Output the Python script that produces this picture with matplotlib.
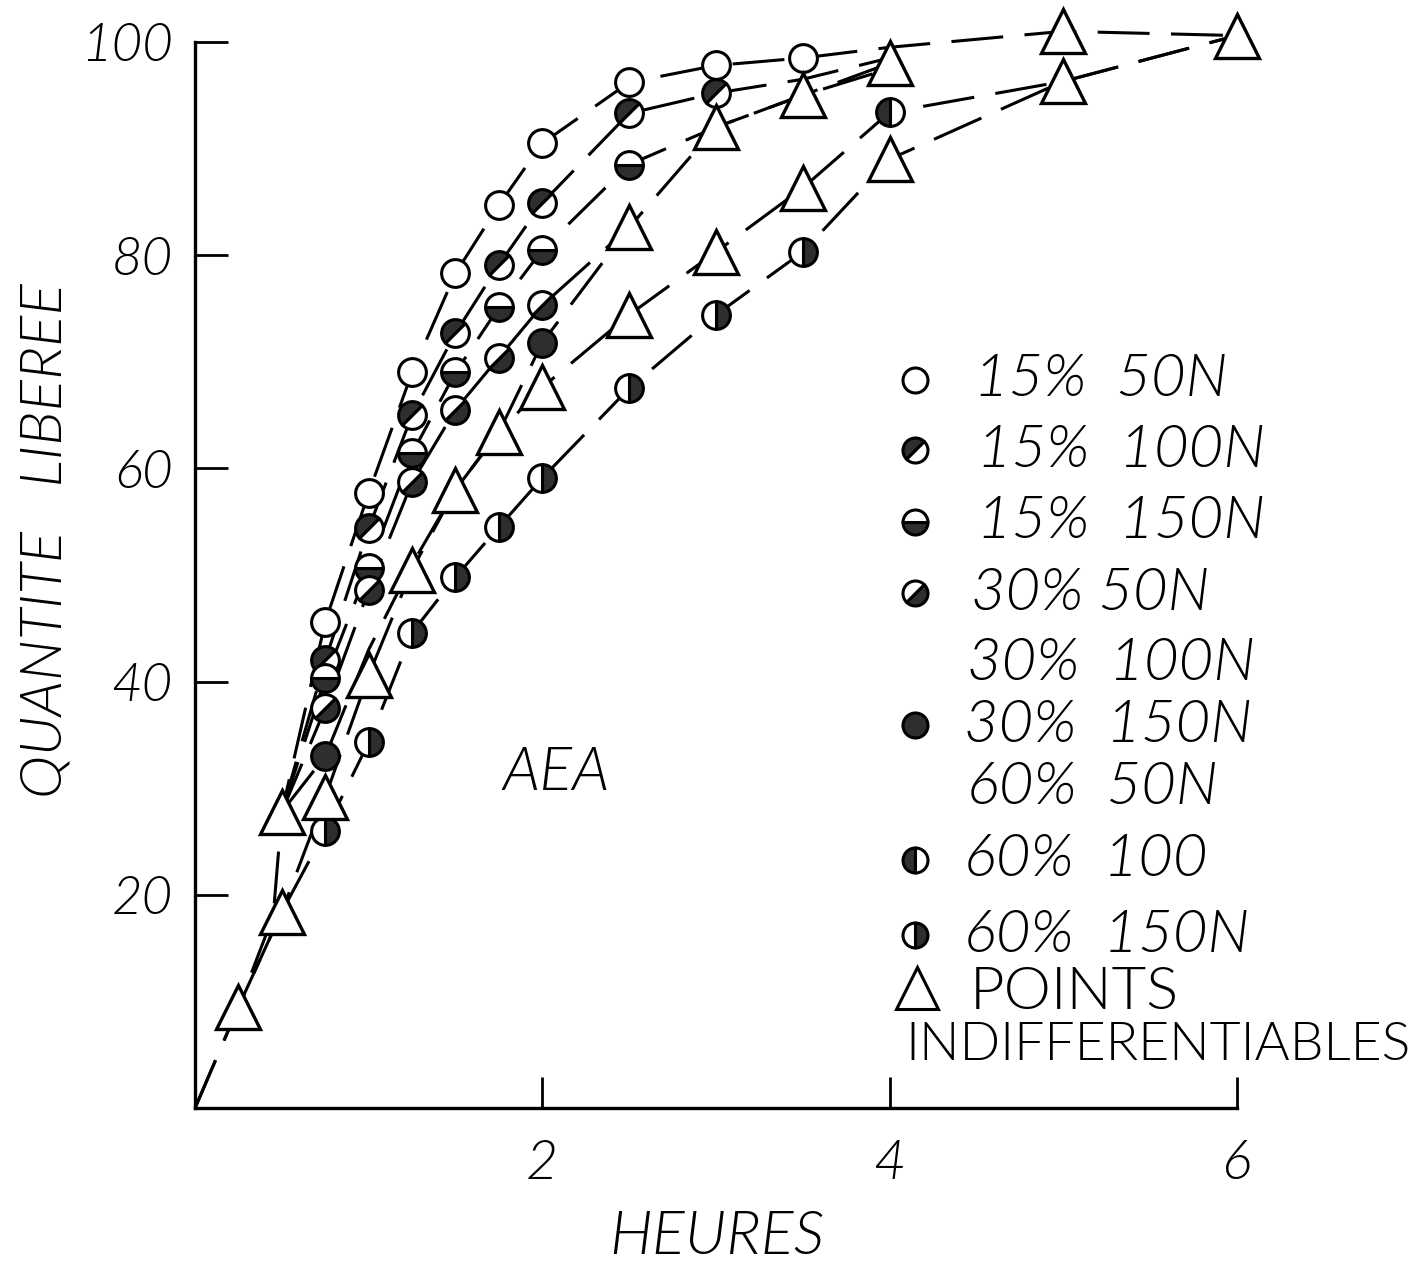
import matplotlib.pyplot as plt
from matplotlib.markers import MarkerStyle
from matplotlib.transforms import Affine2D

# --- valeurs (heures, quantite liberee) ---
# 15% 50N : cercles vides
x_15_50 = [0.75, 1.0, 1.25, 1.5, 1.75, 2.0, 2.5, 3.0, 3.5]
y_15_50 = [45.6, 57.7, 69.0, 78.3, 84.7, 90.5, 96.2, 97.8, 98.5]
# 15% 100N : moitie haut-gauche pleine
x_15_100 = [0.75, 1.0, 1.25, 1.5, 1.75, 2.0, 2.5, 3.0]
y_15_100 = [42.0, 54.4, 65.0, 72.7, 79.1, 84.9, 93.3, 95.2]
# 15% 150N : moitie basse pleine
x_15_150 = [0.75, 1.0, 1.25, 1.5, 1.75, 2.0, 2.5]
y_15_150 = [40.3, 50.7, 61.4, 69.0, 75.1, 80.5, 88.5]
# 30% 50N : moitie bas-droite pleine
x_30_50 = [0.75, 1.0, 1.25, 1.5, 1.75, 2.0]
y_30_50 = [37.5, 48.6, 58.7, 65.5, 70.4, 75.3]
# 30% 150N : plein
x_30_150 = [0.75, 2.0]
y_30_150 = [33.0, 71.8]
# 60% 100 : moitie gauche pleine
x_60_100 = [4.0]
y_60_100 = [93.4]
# 60% 150N : moitie droite pleine
x_60_150 = [0.75, 1.0, 1.25, 1.5, 1.75, 2.0, 2.5, 3.0, 3.5]
y_60_150 = [26.0, 34.3, 44.6, 49.8, 54.5, 59.1, 67.5, 74.4, 80.3]
# points indifferentiables : triangles
x_tri = [0.25, 0.5, 0.5, 0.75, 1.0, 1.25, 1.5, 1.75, 2.0, 2.5, 2.5,
         3.0, 3.0, 3.5, 3.5, 4.0, 4.0, 5.0, 5.0, 6.0]
y_tri = [9.5, 18.4, 27.8, 29.2, 40.6, 50.5, 58.0, 63.4, 67.6, 74.4, 82.6,
         80.3, 92.0, 86.3, 95.0, 89.0, 98.0, 96.3, 101.0, 100.6]

# courbes tracees a la main (tirets)
courbe_a_x = [0, 0.25, 0.45, 0.5, 0.75, 1.0, 1.25, 1.5, 1.75, 2.0, 2.5, 3.0, 3.5, 4.0, 5.0, 6.0]
courbe_a_y = [0, 9.5, 18.0, 27.8, 45.6, 57.7, 69.0, 78.3, 84.7, 90.5, 96.2, 97.8, 98.5, 99.5, 101.0, 100.6]
courbe_b_x = [0.5, 0.75, 1.0, 1.25, 1.5, 1.75, 2.0, 2.5, 3.0, 3.5, 4.0]
courbe_b_y = [27.8, 42.0, 54.4, 65.0, 72.7, 79.1, 84.9, 93.3, 95.2, 96.5, 98.5]
courbe_c_x = [0.5, 0.75, 1.0, 1.25, 1.5, 1.75, 2.0, 2.5, 3.0, 3.5, 4.0]
courbe_c_y = [27.8, 40.3, 50.7, 61.4, 69.0, 75.1, 80.5, 88.5, 92.0, 95.0, 97.5]
courbe_d_x = [0.5, 0.75, 1.0, 1.25, 1.5, 1.75, 2.0, 2.5, 3.0, 3.5, 4.0]
courbe_d_y = [27.8, 37.5, 48.6, 58.7, 65.5, 70.4, 75.3, 82.6, 92.0, 95.0, 98.0]
courbe_e_x = [0.5, 0.75, 1.0, 1.25, 1.5, 1.75, 2.0, 2.5]
courbe_e_y = [27.8, 33.0, 43.0, 51.0, 58.0, 63.4, 71.8, 82.6]
courbe_f_x = [0.25, 0.5, 0.75, 1.0, 1.25, 1.5, 1.75, 2.0, 2.5, 3.0, 3.5, 4.0, 5.0, 6.0]
courbe_f_y = [9.5, 18.4, 29.2, 40.6, 50.5, 58.0, 63.4, 67.6, 74.4, 80.3, 86.3, 93.4, 96.3, 100.6]
courbe_g_x = [0, 0.25, 0.5, 0.75, 1.0, 1.25, 1.5, 1.75, 2.0, 2.5, 3.0, 3.5, 4.0, 5.0, 6.0]
courbe_g_y = [0, 9.5, 18.4, 26.0, 34.3, 44.6, 49.8, 54.5, 59.1, 67.5, 74.4, 80.3, 89.0, 96.3, 100.6]

legende = ['15%  50N', '15%  100N', '15%  150N', '30% 50N', '30%  100N',
           '30%  150N', '60%  50N', '60%  100', '60%  150N', 'POINTS']

fonce = '#2e2e2e'
police = 'Lato'
graisse = 300


def demi(fill, angle):
    return MarkerStyle('o', fillstyle=fill, transform=Affine2D().rotate_deg(angle))


styles = {
    'o_vide': dict(marker='o', mfc='white'),
    '15_100': dict(marker=demi('left', -45), mfc=fonce, mfcalt='white'),
    '15_150': dict(marker=demi('bottom', 0), mfc=fonce, mfcalt='white'),
    '30_50': dict(marker=demi('right', -45), mfc=fonce, mfcalt='white'),
    '30_150': dict(marker='o', mfc=fonce),
    '60_100': dict(marker=demi('left', 0), mfc=fonce, mfcalt='white'),
    '60_150': dict(marker=demi('right', 0), mfc=fonce, mfcalt='white'),
}

fig = plt.figure(figsize=(14.27, 12.68), dpi=100)
ax = fig.add_axes([0.1367, 0.1262, 0.730, 0.8407])

tirets = (0, (17, 7))
for cx, cy in [(courbe_a_x, courbe_a_y), (courbe_b_x, courbe_b_y), (courbe_c_x, courbe_c_y),
               (courbe_d_x, courbe_d_y), (courbe_e_x, courbe_e_y), (courbe_f_x, courbe_f_y),
               (courbe_g_x, courbe_g_y)]:
    ax.plot(cx, cy, color='k', lw=2.2, ls=tirets, zorder=1, clip_on=False)

series = [(x_15_50, y_15_50, 'o_vide'), (x_15_100, y_15_100, '15_100'),
          (x_15_150, y_15_150, '15_150'), (x_30_50, y_30_50, '30_50'),
          (x_30_150, y_30_150, '30_150'), (x_60_100, y_60_100, '60_100'),
          (x_60_150, y_60_150, '60_150')]
for xs, ys, st in series:
    ax.plot(xs, ys, ls='none', ms=20, mec='k', mew=2.2, zorder=3, clip_on=False, **styles[st])
ax.plot(x_tri, y_tri, ls='none', marker='^', ms=31, mfc='white', mec='k', mew=2.4,
        zorder=3, clip_on=False)

ax.set_xlim(0, 6)
ax.set_ylim(0, 100)
ax.spines['top'].set_visible(False)
ax.spines['right'].set_visible(False)
for s in ['left', 'bottom']:
    ax.spines[s].set_linewidth(2.4)
ax.set_xticks([2, 4, 6])
ax.set_yticks([20, 40, 60, 80, 100])
ax.tick_params(axis='y', direction='in', length=24, width=2, labelsize=38, pad=16)
ax.tick_params(axis='x', direction='in', length=22, width=2, labelsize=40, pad=22)
for lab in ax.get_xticklabels() + ax.get_yticklabels():
    lab.set_fontstyle('italic')
    lab.set_family(police)
    lab.set_fontweight(graisse)

fig.text(0.032, 0.574, 'QUANTITE   LIBEREE', rotation=90, ha='center', va='center',
         fontsize=42, style='italic', family=police, weight=graisse)
fig.text(0.5025, 0.0237, 'HEURES', ha='center', va='center', fontsize=44,
         style='italic', family=police, weight=graisse)
ax.text(0.347, 0.314, 'AEA', transform=ax.transAxes, ha='center', va='center',
        fontsize=44, style='italic', family=police, weight=graisse)

# legende dessinee a la main
lignes_y = [0.683, 0.617, 0.550, 0.483, 0.417, 0.359, 0.301, 0.233, 0.162, 0.108]
lignes_x = [0.748, 0.751, 0.751, 0.745, 0.741, 0.738, 0.741, 0.738, 0.738, 0.744]
marques = ['o_vide', '15_100', '15_150', '30_50', None, '30_150', None, '60_100', '60_150', 'tri']
for txt, yy, xx, mq in zip(legende, lignes_y, lignes_x, marques):
    ax.text(xx, yy, txt, transform=ax.transAxes, ha='left', va='center', fontsize=43,
            style='italic' if mq != 'tri' else 'normal', family=police, weight=graisse)
    if mq == 'tri':
        ax.plot([0.693], [yy + 0.005], transform=ax.transAxes, marker='^', ms=30, mfc='white',
                mec='k', mew=2.2, clip_on=False)
    elif mq is not None:
        ax.plot([0.691], [yy], transform=ax.transAxes, ms=18, mec='k', mew=2.2,
                clip_on=False, **styles[mq])
ax.text(0.682, 0.059, 'INDIFFERENTIABLES', transform=ax.transAxes, ha='left', va='center',
        fontsize=38.5, family=police, weight=graisse)

fig.savefig('out.png', dpi=100)
